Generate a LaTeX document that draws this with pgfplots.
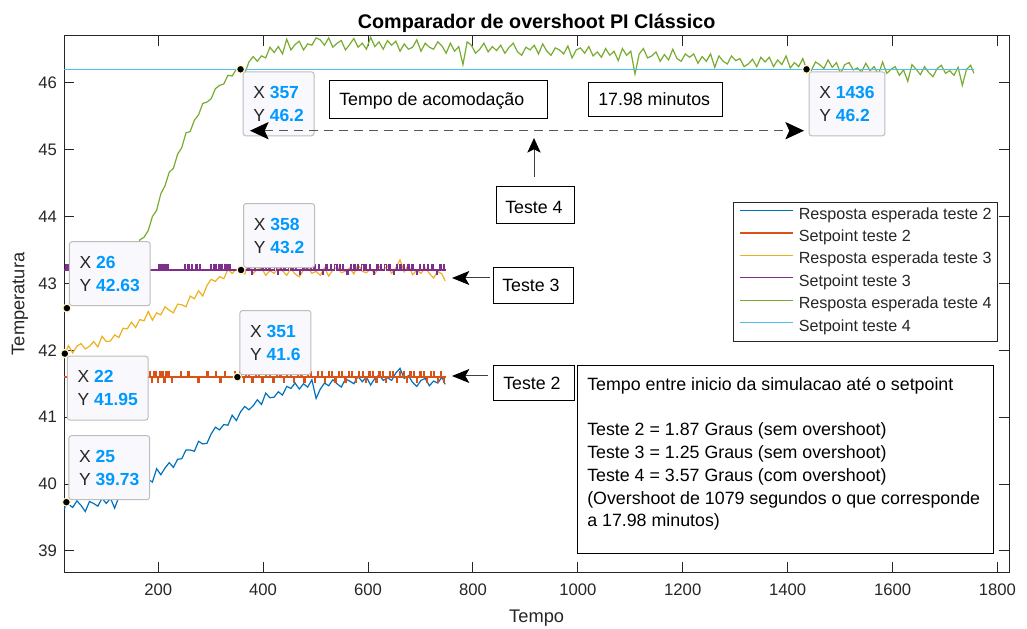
\documentclass[border=0pt]{standalone}
\usepackage{pgfplots}
\usepackage{pgfplotstable}
\pgfplotsset{compat=1.18}
\usetikzlibrary{arrows.meta}
\usepackage{fontspec}
\setmainfont{Liberation Sans}

\definecolor{cA}{HTML}{0072BD}
\definecolor{cB}{HTML}{D95319}
\definecolor{cC}{HTML}{EDB120}
\definecolor{cD}{HTML}{7E2F8E}
\definecolor{cE}{HTML}{77AC30}
\definecolor{cF}{HTML}{4DBEEE}
\definecolor{txt}{HTML}{262626}
\definecolor{tipblue}{HTML}{0099FF}
\definecolor{tipfill}{HTML}{F8F8FD}
\definecolor{tipedge}{HTML}{BDBDBD}
\definecolor{tipring}{HTML}{FFF6C8}
\definecolor{dashgray}{HTML}{555555}

\newcommand\tickfont{\fontsize{12.5pt}{15pt}\selectfont}
\newcommand\labfont{\fontsize{13.7pt}{16pt}\selectfont}
\newcommand\titfont{\fontsize{14.8pt}{17pt}\selectfont\bfseries}
\newcommand\legfont{\fontsize{12.1pt}{14pt}\selectfont}
\newcommand\annfont{\fontsize{13.35pt}{17pt}\selectfont}
\newcommand\tipfont{\fontsize{13.1pt}{17.25pt}\selectfont}
\newcommand\tip[2]{X \textbf{\textcolor{tipblue}{#1}}\\Y \textbf{\textcolor{tipblue}{#2}}}

\tikzset{
  tipbox/.style={draw=tipedge, fill=tipfill, rounded corners=2pt, line width=0.75pt,
    align=left, font=\tipfont, text=txt, minimum height=48pt, inner xsep=7.7pt},
  tipNW/.style={tipbox, anchor=north west, xshift=1.5pt, yshift=-1.5pt},
  tipSW/.style={tipbox, anchor=south west, xshift=1.5pt, yshift=1.5pt},
  annbox/.style={draw=black, fill=white, line width=0.75pt},
}

% Resposta do teste 4
\pgfplotstableread[row sep=\\]{
x y\\
21 42.58\\ 26 42.63\\ 29 42.64\\ 37 42.75\\ 45 42.74\\ 53 42.74\\ 61 42.85\\ 69 42.92\\
77 42.90\\ 85 42.97\\ 93 42.97\\ 101 43.10\\ 109 43.07\\ 117 43.19\\ 125 43.29\\ 133 43.28\\
141 43.36\\ 149 43.46\\ 157 43.46\\ 165 43.65\\ 173 43.69\\ 181 43.79\\ 189 44.00\\ 197 44.09\\
205 44.34\\ 213 44.46\\ 221 44.66\\ 229 44.72\\ 237 44.93\\ 245 45.03\\ 253 45.25\\ 261 45.27\\
269 45.44\\ 277 45.52\\ 285 45.69\\ 293 45.71\\ 301 45.76\\ 309 45.91\\ 317 45.96\\ 325 45.98\\
333 46.11\\ 341 46.10\\ 349 46.20\\ 357 46.20\\ 365 46.14\\ 373 46.31\\ 381 46.39\\ 389 46.32\\
397 46.40\\ 405 46.37\\ 413 46.53\\ 421 46.45\\ 429 46.54\\ 437 46.43\\ 445 46.65\\ 453 46.49\\
461 46.57\\ 469 46.62\\ 477 46.49\\ 485 46.58\\ 493 46.56\\ 501 46.67\\ 509 46.64\\ 517 46.56\\
525 46.67\\ 533 46.53\\ 541 46.59\\ 549 46.63\\ 557 46.49\\ 565 46.57\\ 573 46.66\\ 581 46.53\\
589 46.59\\ 597 46.50\\ 605 46.68\\ 613 46.54\\ 621 46.61\\ 629 46.50\\ 637 46.63\\ 645 46.56\\
653 46.62\\ 661 46.47\\ 669 46.58\\ 677 46.50\\ 685 46.53\\ 693 46.64\\ 701 46.47\\ 709 46.59\\
717 46.53\\ 725 46.50\\ 733 46.61\\ 741 46.55\\ 749 46.44\\ 757 46.59\\ 765 46.47\\ 773 46.54\\
781 46.27\\ 789 46.61\\ 797 46.56\\ 805 46.44\\ 813 46.50\\ 821 46.59\\ 829 46.46\\ 837 46.54\\
845 46.48\\ 853 46.56\\ 861 46.44\\ 869 46.53\\ 877 46.59\\ 885 46.46\\ 893 46.41\\ 901 46.53\\
909 46.49\\ 917 46.56\\ 925 46.43\\ 933 46.58\\ 941 46.47\\ 949 46.41\\ 957 46.52\\ 965 46.49\\
973 46.43\\ 981 46.55\\ 989 46.37\\ 997 46.49\\ 1005 46.52\\ 1013 46.44\\ 1021 46.54\\ 1029 46.40\\
1037 46.46\\ 1045 46.38\\ 1053 46.51\\ 1061 46.41\\ 1069 46.47\\ 1077 46.33\\ 1085 46.51\\ 1093 46.41\\
1101 46.47\\ 1109 46.13\\ 1117 46.43\\ 1125 46.51\\ 1133 46.37\\ 1141 46.40\\ 1149 46.46\\ 1157 46.32\\
1165 46.42\\ 1173 46.34\\ 1181 46.50\\ 1189 46.36\\ 1197 46.32\\ 1205 46.43\\ 1213 46.38\\ 1221 46.43\\
1229 46.29\\ 1237 46.39\\ 1245 46.32\\ 1253 46.43\\ 1261 46.23\\ 1269 46.40\\ 1277 46.32\\ 1285 46.28\\
1293 46.40\\ 1301 46.33\\ 1309 46.36\\ 1317 46.24\\ 1325 46.28\\ 1333 46.35\\ 1341 46.24\\ 1349 46.38\\
1357 46.31\\ 1365 46.38\\ 1373 46.24\\ 1381 46.34\\ 1389 46.27\\ 1397 46.40\\ 1405 46.22\\ 1413 46.30\\
1421 46.24\\ 1429 46.36\\ 1436 46.20\\ 1445 46.18\\ 1453 46.31\\ 1461 46.27\\ 1469 46.21\\ 1477 46.34\\
1485 46.23\\ 1493 46.30\\ 1501 46.14\\ 1509 46.27\\ 1517 46.30\\ 1525 46.19\\ 1533 46.22\\ 1541 46.16\\
1549 46.29\\ 1557 46.18\\ 1565 46.24\\ 1573 46.12\\ 1581 46.31\\ 1589 46.14\\ 1597 46.20\\ 1605 46.24\\
1613 46.11\\ 1621 46.19\\ 1629 46.02\\ 1637 46.27\\ 1645 46.20\\ 1653 46.12\\ 1661 46.24\\ 1669 46.15\\
1677 46.09\\ 1685 46.21\\ 1693 46.26\\ 1701 46.14\\ 1709 46.18\\ 1717 46.11\\ 1725 46.23\\ 1733 45.96\\
1741 46.20\\ 1749 46.26\\ 1755 46.14\\
}\respD

% Resposta do teste 2
\pgfplotstableread[row sep=\\]{
x y\\
21 39.62\\ 25 39.73\\ 29 39.70\\ 37 39.65\\ 45 39.75\\ 53 39.68\\ 61 39.59\\ 69 39.74\\
77 39.71\\ 85 39.67\\ 93 39.79\\ 101 39.71\\ 109 39.79\\ 117 39.64\\ 125 39.81\\ 133 39.89\\
141 39.82\\ 149 39.89\\ 157 39.87\\ 165 40.02\\ 173 39.98\\ 181 40.07\\ 189 40.03\\ 197 40.23\\
205 40.14\\ 213 40.24\\ 221 40.32\\ 229 40.25\\ 237 40.37\\ 245 40.38\\ 253 40.51\\ 261 40.51\\
269 40.49\\ 277 40.64\\ 285 40.60\\ 293 40.61\\ 301 40.75\\ 309 40.85\\ 317 40.81\\ 325 40.89\\
333 40.88\\ 341 41.03\\ 349 40.95\\ 357 41.08\\ 365 41.16\\ 373 41.11\\ 381 41.17\\ 389 41.26\\
397 41.19\\ 405 41.36\\ 413 41.29\\ 421 41.30\\ 429 41.38\\ 437 41.33\\ 445 41.46\\ 453 41.43\\
461 41.51\\ 469 41.42\\ 477 41.50\\ 485 41.45\\ 493 41.56\\ 501 41.28\\ 509 41.42\\ 517 41.51\\
525 41.47\\ 533 41.56\\ 541 41.50\\ 549 41.45\\ 557 41.57\\ 565 41.54\\ 573 41.50\\ 581 41.61\\
589 41.53\\ 597 41.60\\ 605 41.48\\ 613 41.58\\ 621 41.63\\ 629 41.55\\ 637 41.59\\ 645 41.55\\
653 41.66\\ 661 41.73\\ 669 41.58\\ 677 41.62\\ 685 41.52\\ 693 41.46\\ 701 41.55\\ 709 41.58\\
717 41.47\\ 725 41.54\\ 733 41.51\\ 741 41.60\\ 747 41.49\\
}\respB

% Resposta do teste 3
\pgfplotstableread[row sep=\\]{
x y\\
21 42.02\\ 22 41.95\\ 29 42.07\\ 37 41.96\\ 45 42.06\\ 53 42.10\\ 61 42.02\\ 69 42.06\\
77 42.13\\ 85 42.05\\ 93 42.21\\ 101 42.13\\ 109 42.14\\ 117 42.23\\ 125 42.19\\ 133 42.33\\
141 42.32\\ 149 42.42\\ 157 42.34\\ 165 42.46\\ 173 42.44\\ 181 42.58\\ 189 42.45\\ 197 42.56\\
205 42.53\\ 213 42.65\\ 221 42.60\\ 229 42.56\\ 237 42.69\\ 245 42.68\\ 253 42.65\\ 261 42.81\\
269 42.77\\ 277 42.89\\ 285 42.81\\ 293 42.97\\ 301 43.06\\ 309 43.03\\ 317 43.10\\ 325 43.07\\
333 43.21\\ 341 43.15\\ 349 43.21\\ 358 43.20\\ 365 43.14\\ 373 43.30\\ 381 43.15\\ 389 43.21\\
397 43.23\\ 405 43.12\\ 413 43.19\\ 421 43.15\\ 429 43.24\\ 437 43.19\\ 445 43.12\\ 453 43.22\\
461 43.14\\ 469 43.10\\ 477 43.20\\ 485 43.24\\ 493 43.15\\ 501 43.18\\ 509 43.12\\ 517 43.23\\
525 43.11\\ 533 43.20\\ 541 43.25\\ 549 43.16\\ 557 43.18\\ 565 43.23\\ 573 43.14\\ 581 43.28\\
589 43.18\\ 597 43.16\\ 605 43.22\\ 613 43.14\\ 621 43.25\\ 629 43.20\\ 637 43.26\\ 645 43.15\\
653 43.23\\ 661 43.35\\ 669 43.17\\ 677 43.28\\ 685 43.13\\ 693 43.20\\ 701 43.15\\ 709 43.23\\
717 43.15\\ 725 43.08\\ 733 43.18\\ 741 43.14\\ 747 43.04\\
}\respC

\begin{document}
\begin{tikzpicture}
\path[use as bounding box] (-48.225pt,-42pt) rectangle (722.025pt,429pt);
\begin{axis}[
  at={(0pt,0pt)}, anchor=south west,
  scale only axis, width=708.525pt, height=402pt,
  xmin=21, xmax=1822, ymin=38.686, ymax=46.698,
  clip=false,
  xtick={200,400,...,1800}, ytick={39,40,...,46},
  tick align=inside, tick pos=both, major tick length=7.3pt,
  axis line style={draw=txt, line width=0.75pt},
  every tick/.style={draw=txt, line width=0.75pt},
  tick label style={font=\tickfont, text=txt},
  /pgf/number format/assume math mode=true,
  /pgf/number format/1000 sep={},
  xticklabel style={yshift=-5.5pt},
  yticklabel style={xshift=-2pt},
  every axis title shift=0pt,
  title={Comparador de overshoot PI Clássico},
  title style={font=\titfont, at={(rel axis cs:0.5,1.0149)}, anchor=base},
  xlabel={Tempo},
  xlabel style={font=\labfont, text=txt, at={(rel axis cs:0.5,-0.0951)}, anchor=base},
  ylabel={Temperatura},
  ylabel style={font=\labfont, text=txt, at={(rel axis cs:-0.0469,0.5)}, anchor=center},
  legend style={at={(rel axis cs:0.7078,0.6903)}, anchor=north west,
    draw=txt, line width=0.75pt, fill=white, font=\legfont, text=txt,
    inner xsep=4.5pt, inner ysep=1.7pt, row sep=0pt, column sep=3.75pt,
    nodes={inner sep=0pt, text height=10.8pt, text depth=6pt}},
  legend cell align=left,
  legend image code/.code={\draw[#1, line width=1pt] (0pt,4pt) -- (39.75pt,4pt);},
  every axis plot/.append style={line width=0.9pt},
]
\addplot[color=cA] table[x=x, y=y] {\respB};
\addlegendentry{Resposta esperada teste 2}

\addplot[color=cB, const plot] coordinates {
(21,41.6)
(183,41.68)(185,41.6)(187,41.52)(189,41.6)(191,41.68)(193,41.6)(195,41.68)(197,41.6)
(199,41.52)(201,41.6)(203,41.68)(205,41.6)(207,41.68)(209,41.6)(211,41.52)(213,41.6)
(215,41.68)(217,41.6)(220,41.68)(222,41.6)(225,41.52)(227,41.6)
(242,41.68)(244,41.6)(257,41.68)(259,41.6)(276,41.52)(278,41.6)(293,41.68)(295,41.6)
(309,41.68)(311,41.6)(318,41.52)(320,41.6)(327,41.68)(329,41.6)(345,41.68)(347,41.6)
(356,41.68)(358,41.6)(362,41.52)(364,41.6)(367,41.68)(369,41.6)(372,41.68)(374,41.6)
(379,41.52)(381,41.6)(385,41.68)(387,41.6)(391,41.68)(393,41.6)(398,41.52)(400,41.6)
(404,41.68)(406,41.6)(412,41.68)(414,41.6)(419,41.52)(421,41.6)(426,41.68)(428,41.6)
(432,41.68)(434,41.6)(439,41.52)(441,41.6)(445,41.68)(447,41.6)(452,41.68)(454,41.6)
(458,41.52)(460,41.6)(465,41.68)(467,41.6)(472,41.68)(474,41.6)(478,41.52)(480,41.6)
(485,41.68)(487,41.6)(491,41.68)(493,41.6)(498,41.52)(500,41.6)(504,41.68)(506,41.6)
(511,41.68)(513,41.6)(517,41.52)(519,41.6)(524,41.68)(526,41.6)(530,41.68)(532,41.6)
(537,41.52)(539,41.6)(543,41.68)(545,41.6)(550,41.68)(552,41.6)(556,41.52)(558,41.6)
(563,41.68)(565,41.6)(569,41.68)(571,41.6)(576,41.52)(578,41.6)(582,41.68)(584,41.6)
(589,41.68)(591,41.6)(595,41.52)(597,41.6)(602,41.68)(604,41.6)(608,41.68)(610,41.6)
(615,41.52)(617,41.6)(621,41.68)(623,41.6)(628,41.68)(630,41.6)(634,41.52)(636,41.6)
(641,41.68)(643,41.6)(647,41.68)(649,41.6)(654,41.52)(656,41.6)(660,41.68)(662,41.6)
(667,41.68)(669,41.6)(673,41.52)(675,41.6)(680,41.68)(682,41.6)(686,41.68)(688,41.6)
(693,41.52)(695,41.6)(699,41.68)(701,41.6)(706,41.68)(708,41.6)(712,41.52)(714,41.6)
(719,41.68)(721,41.6)(725,41.68)(727,41.6)(732,41.52)(734,41.6)(738,41.68)(740,41.6)
(744,41.52)(746,41.6)(747,41.6)
};
\addlegendentry{Setpoint teste 2}

\addplot[color=cC] table[x=x, y=y] {\respC};
\addlegendentry{Resposta esperada teste 3}

\addplot[color=cD, const plot] coordinates {
(21,43.2)
(24,43.28)(26,43.2)(29,43.28)(31,43.2)(34,43.13)(36,43.2)
(200,43.28)(202,43.2)(204,43.28)(206,43.2)(208,43.28)(210,43.2)(213,43.28)(215,43.2)
(217,43.28)(219,43.2)
(250,43.28)(252,43.2)(257,43.28)(259,43.2)(263,43.28)(265,43.2)(272,43.28)(274,43.2)
(279,43.28)(281,43.2)
(300,43.28)(302,43.2)(305,43.28)(307,43.2)(309,43.28)(311,43.2)(316,43.28)(318,43.2)
(321,43.28)(323,43.2)(327,43.28)(329,43.2)(331,43.28)(333,43.2)(336,43.28)(338,43.2)
(371,43.28)(373,43.2)(378,43.13)(380,43.2)(384,43.28)(386,43.2)(398,43.28)(401,43.2)
(404,43.28)(406,43.2)(411,43.28)(413,43.2)(422,43.28)(426,43.2)(427,43.13)(429,43.2)
(433,43.28)(435,43.2)(440,43.28)(442,43.2)(449,43.28)(453,43.2)(455,43.28)(457,43.2)
(462,43.28)(464,43.2)(470,43.13)(472,43.2)(476,43.28)(478,43.2)(483,43.28)(485,43.2)
(490,43.28)(492,43.2)(497,43.28)(499,43.2)(505,43.28)(507,43.2)(513,43.13)(515,43.2)
(520,43.28)(522,43.2)(528,43.28)(530,43.2)(536,43.28)(541,43.2)(545,43.28)(547,43.2)
(552,43.28)(554,43.2)(560,43.13)(562,43.2)(566,43.28)(568,43.2)(573,43.28)(575,43.2)
(580,43.28)(582,43.2)(588,43.28)(592,43.2)(594,43.28)(596,43.2)(603,43.28)(605,43.2)
(610,43.13)(612,43.2)(617,43.28)(619,43.2)(624,43.28)(626,43.2)(632,43.28)(636,43.2)
(640,43.28)(642,43.2)(648,43.13)(650,43.2)(654,43.28)(656,43.2)(661,43.28)(663,43.2)
(668,43.28)(670,43.2)(676,43.28)(678,43.2)(684,43.28)(686,43.2)(692,43.13)(694,43.2)
(698,43.28)(700,43.2)(706,43.28)(708,43.2)(714,43.28)(716,43.2)(722,43.28)(724,43.2)
(730,43.13)(732,43.2)(737,43.28)(739,43.2)(744,43.28)(746,43.2)(747,43.2)
};
\addlegendentry{Setpoint teste 3}

\addplot[color=cE] table[x=x, y=y] {\respD};
\addlegendentry{Resposta esperada teste 4}

\addplot[color=cF, line width=1pt] coordinates {(21,46.2)(1755,46.2)};
\addlegendentry{Setpoint teste 4}

% caixas dos datatips
\node[tipNW] at (axis cs:357,46.2) {\tip{357}{46.2}};
\node[tipSW] at (axis cs:26,42.63) {\tip{26}{42.63}};
\node[tipSW] at (axis cs:358,43.2) {\tip{358}{43.2}};
\node[tipNW] at (axis cs:1436,46.2) {\tip{1436}{46.2}};
\node[tipNW] at (axis cs:22,41.95) {\tip{22}{41.95}};
\node[tipSW] at (axis cs:351,41.6) {\tip{351}{41.6}};
\node[tipSW] at (axis cs:25,39.73) {\tip{25}{39.73}};

% pontos marcados
\addplot[only marks, mark=*, mark size=3pt,
  mark options={fill=black, draw=tipring, line width=0.9pt}, forget plot]
  coordinates {(357,46.2)(26,42.63)(358,43.2)(1436,46.2)(22,41.95)(351,41.6)(25,39.73)};
\end{axis}

% anotacoes (coordenadas em pixels da figura)
\begin{scope}[shift={(-48.225pt,429pt)}, x=0.75pt, y=-0.75pt, font=\annfont]
  \draw[annbox] (329,81) rectangle (547,119);
  \node[anchor=base west, inner sep=0pt] at (339,106) {Tempo de acomodação};
  \draw[annbox] (588,83) rectangle (722,117);
  \node[anchor=base west, inner sep=0pt] at (598,106) {17.98 minutos};

  \draw[dashgray, line width=0.75pt, dash pattern=on 6.75pt off 4.5pt,
    {Stealth[length=14pt, width=13pt, inset=3pt, color=black]}-{Stealth[length=14pt, width=13pt, inset=3pt, color=black]}]
    (250,130.7) -- (804,130.7);

  \draw[black!75, line width=0.75pt, -{Stealth[length=11pt, width=10pt, inset=2.5pt, color=black]}]
    (534,177) -- (534,138);
  \draw[annbox] (496,187) rectangle (574,224);
  \node[anchor=base west, inner sep=0pt] at (505,214) {Teste 4};

  \draw[black!75, line width=0.75pt, -{Stealth[length=13pt, width=10.5pt, inset=3pt, color=black]}]
    (490,278) -- (452,278);
  \draw[annbox] (493,268) rectangle (573,304);
  \node[anchor=base west, inner sep=0pt] at (502,292) {Teste 3};

  \draw[black!75, line width=0.75pt, -{Stealth[length=13pt, width=10.5pt, inset=3pt, color=black]}]
    (488,376) -- (452,376);
  \draw[annbox] (493,366) rectangle (574,401);
  \node[anchor=base west, inner sep=0pt] at (503,390) {Teste 2};

  \draw[annbox] (577,366) rectangle (993,553);
  \node[anchor=base west, inner sep=0pt] at (587,390.7) {Tempo entre inicio da simulacao até o setpoint};
  \node[anchor=base west, inner sep=0pt] at (587,436) {Teste 2 = 1.87 Graus (sem overshoot)};
  \node[anchor=base west, inner sep=0pt] at (587,458.7) {Teste 3 = 1.25 Graus (sem overshoot)};
  \node[anchor=base west, inner sep=0pt] at (587,481.4) {Teste 4 = 3.57 Graus (com overshoot)};
  \node[anchor=base west, inner sep=0pt] at (587,504.1) {(Overshoot de 1079 segundos o que corresponde};
  \node[anchor=base west, inner sep=0pt] at (587,526.8) {a 17.98 minutos)};
\end{scope}
\end{tikzpicture}
\end{document}
